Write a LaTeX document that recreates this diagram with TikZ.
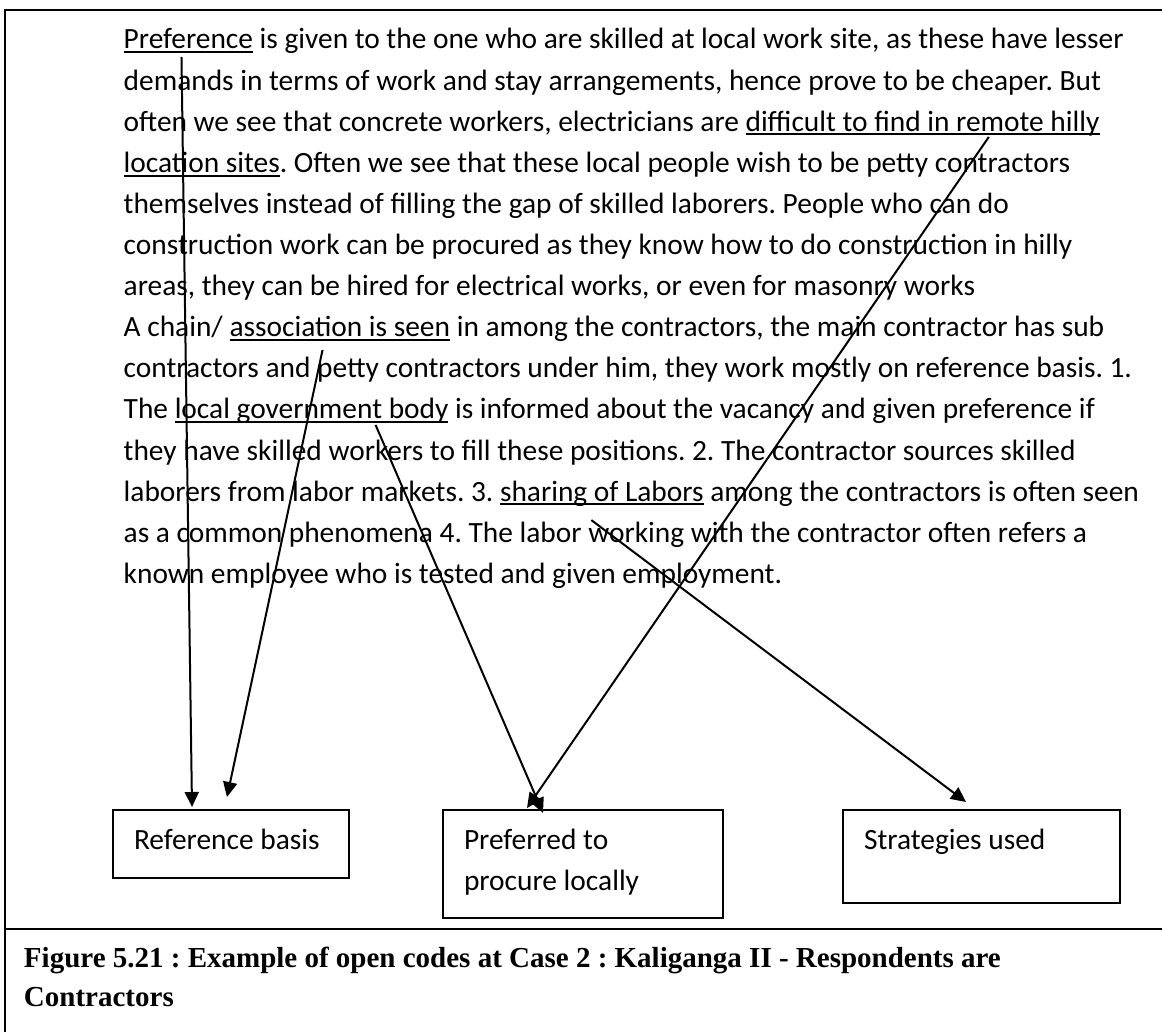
\documentclass[tikz,border=0pt]{standalone}
\usepackage{fontspec}
\setmainfont{Carlito}
\newfontfamily\capserif{Liberation Serif}
\usetikzlibrary{arrows.meta}

% body text size: 14.7pt type on 20.55pt leading
\newcommand\bodysize{\fontsize{14.7pt}{20.55pt}\selectfont}
% underline at a fixed depth below the baseline
\newsavebox\ulbox
\newcommand\ulword[1]{\sbox\ulbox{#1}\rlap{\rule[-2.15pt]{\wd\ulbox}{1pt}}\usebox\ulbox}
\newlength\wA \newlength\wB \newlength\wC \newlength\wD \newlength\wE

\begin{document}
\frenchspacing
% offsets of the arrow origins inside their lines
\settowidth\wA{\bodysize Prefe}
\settowidth\wB{\bodysize A chain/ associat}
\settowidth\wC{\bodysize The local governmen}
\settowidth\wD{\bodysize often we see that concrete workers, electricians are difficult to find in re}
\settowidth\wE{\bodysize laborers from labor markets. 3. sharing}
\begin{tikzpicture}[x=0.5pt, y=-0.5pt, line width=1pt,
  textline/.style={anchor=base west, inner sep=0pt, font=\bodysize},
  codebox/.style={draw, anchor=north west, inner sep=0pt, font=\bodysize},
  link/.style={-{Triangle[length=7.5pt, width=7pt]}, line width=1pt},
  captionline/.style={anchor=base west, inner sep=0pt,
    font=\capserif\bfseries\fontsize{14.5pt}{19.5pt}\selectfont}]

\useasboundingbox (0,0) rectangle (1162,1032);

% frame and caption divider
\draw (5,1032) -- (5,10) -- (1162,10);
\draw (5,929) -- (1162,929);

% interview excerpt
\node[textline] (l1)  at (122.7, 49.0) {\ulword{Preference} is given to the one who are skilled at local work site, as these have lesser};
\node[textline] (l2)  at (122.7, 90.1) {demands in terms of work and stay arrangements, hence prove to be cheaper. But};
\node[textline] (l3)  at (122.7,131.2) {often we see that concrete workers, electricians are \ulword{difficult to find in remote hilly}};
\node[textline] (l4)  at (122.7,172.3) {\ulword{location sites}. Often we see that these local people wish to be petty contractors};
\node[textline] (l5)  at (122.7,213.4) {themselves instead of filling the gap of skilled laborers. People who can do};
\node[textline] (l6)  at (122.7,254.5) {construction work can be procured as they know how to do construction in hilly};
\node[textline] (l7)  at (122.7,295.6) {areas, they can be hired for electrical works, or even for masonry works};
\node[textline] (l8)  at (122.7,336.7) {A chain/ \ulword{association is seen} in among the contractors, the main contractor has sub};
\node[textline] (l9)  at (122.7,377.8) {contractors and petty contractors under him, they work mostly on reference basis. 1.};
\node[textline] (l10) at (122.7,418.9) {The \ulword{local government body} is informed about the vacancy and given preference if};
\node[textline] (l11) at (122.7,460.0) {they have skilled workers to fill these positions. 2. The contractor sources skilled};
\node[textline] (l12) at (122.7,501.1) {laborers from labor markets. 3. \ulword{sharing of Labors} among the contractors is often seen};
\node[textline] (l13) at (122.7,542.2) {as a common phenomena 4. The labor working with the contractor often refers a};
\node[textline] (l14) at (122.7,583.3) {known employee who is tested and given employment.};

% open codes
\node[codebox] (b1) at (112,809) {\parbox[c][34pt][t]{118pt}{\raggedright\leftskip=10.5pt\rule{0pt}{19.5pt}Reference basis}};
\node[codebox] (b2) at (442,809) {\parbox[c][54pt][t]{140pt}{\raggedright\leftskip=10.5pt\rule{0pt}{19.5pt}Preferred to\\procure locally}};
\node[codebox] (b3) at (842,809) {\parbox[c][46.5pt][t]{138.5pt}{\raggedright\leftskip=10.5pt\rule{0pt}{19.5pt}Strategies used}};

% arrow origins under the coded phrases
\coordinate (s1) at ([xshift=\wA-1.75pt, yshift=-4pt]l1.base west);
\coordinate (s2) at ([xshift=\wB-0.7pt, yshift=-6.65pt]l8.base west);
\coordinate (s3) at ([xshift=\wC+2pt, yshift=-3pt]l10.base west);
\coordinate (s4) at ([xshift=\wD+4.5pt, yshift=-2.9pt]l3.base west);
\coordinate (s5) at ([xshift=\wE+2.5pt, yshift=-9.5pt]l12.base west);

\draw[link] (s1) -- ([xshift=40pt, yshift=1pt]b1.north west);
\draw[link] (s2) -- ([xshift=57.5pt, yshift=6pt]b1.north west);
\draw[link] (s3) -- ([xshift=50.5pt, yshift=-2pt]b2.north west);
\draw[link] (s4) -- ([xshift=42.5pt, yshift=0.5pt]b2.north west);
\draw[link] (s5) -- ([xshift=62pt, yshift=3.5pt]b3.north west);

% caption
\node[captionline] (c1) at (23,967) {Figure 5.21 : Example of open codes at Case 2 : Kaliganga II - Respondents are};
\node[captionline] (c2) at (23,1006) {Contractors};
\end{tikzpicture}
\end{document}
